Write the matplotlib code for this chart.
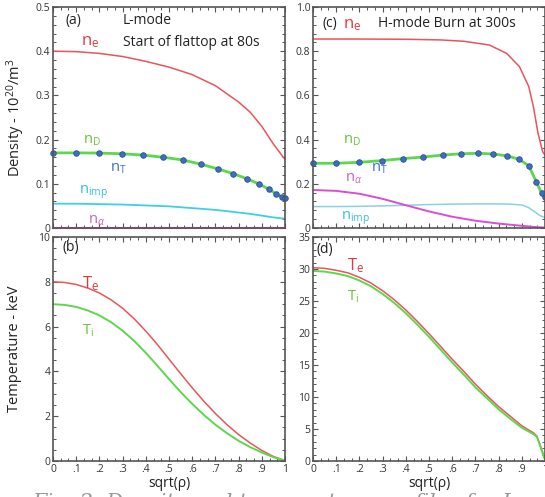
import matplotlib
matplotlib.use('Agg')
import matplotlib.pyplot as plt
from matplotlib.ticker import MultipleLocator, FixedLocator

plt.rcParams['font.family'] = ['Open Sans', 'DejaVu Sans']
plt.rcParams['mathtext.fontset'] = 'custom'
plt.rcParams['mathtext.rm'] = 'Open Sans'
plt.rcParams['mathtext.it'] = 'Open Sans:italic'

# ---- data ----
# profile grid (sqrt(rho))
x_prof = [0.0, 0.1, 0.2, 0.3, 0.4, 0.5, 0.6, 0.7, 0.8, 0.85, 0.9, 0.95, 1.0]
x_T = [0.0, 0.05, 0.1, 0.15, 0.2, 0.25, 0.3, 0.35, 0.4, 0.45, 0.5, 0.55, 0.6, 0.65, 0.7, 0.75, 0.8, 0.85, 0.9, 0.95, 1.0]
# marker grid for nD / nT
x_mark = [0.0, 0.1, 0.198, 0.296, 0.387, 0.475, 0.559, 0.64, 0.712, 0.777, 0.838, 0.888, 0.93, 0.962, 0.985, 1.0]

# (a) L-mode, start of flattop at 80s
ne_a = [0.40, 0.399, 0.395, 0.388, 0.377, 0.364, 0.347, 0.322, 0.285, 0.262, 0.23, 0.19, 0.155]
nD_a = [0.170, 0.170, 0.1695, 0.168, 0.165, 0.160, 0.154, 0.144, 0.1335, 0.123, 0.111, 0.0995, 0.088, 0.077, 0.071, 0.067]
nimp_a = [0.055, 0.055, 0.054, 0.053, 0.051, 0.049, 0.045, 0.041, 0.035, 0.032, 0.028, 0.024, 0.021]
nalpha_a = [0.001, 0.001, 0.001, 0.001, 0.001, 0.001, 0.001, 0.001, 0.001, 0.001, 0.001, 0.001, 0.001]

# (b) temperatures, L-mode
Te_b = [8.0, 7.97, 7.88, 7.72, 7.5, 7.2, 6.82, 6.35, 5.8, 5.2, 4.55, 3.9, 3.27, 2.67, 2.12, 1.62, 1.18, 0.8, 0.47, 0.2, 0.02]
Ti_b = [7.0, 6.97, 6.88, 6.72, 6.5, 6.2, 5.82, 5.36, 4.83, 4.25, 3.66, 3.08, 2.55, 2.06, 1.62, 1.24, 0.9, 0.62, 0.38, 0.17, 0.02]

# (c) H-mode burn at 300s
x_ne_c = [0.0, 0.2, 0.4, 0.55, 0.65, 0.76, 0.835, 0.89, 0.93, 0.95, 0.97, 0.99, 1.0]
ne_c = [0.855, 0.855, 0.854, 0.851, 0.845, 0.828, 0.79, 0.73, 0.64, 0.549, 0.428, 0.345, 0.33]
nD_c = [0.293, 0.293, 0.297, 0.305, 0.314, 0.321, 0.330, 0.336, 0.338, 0.335, 0.326, 0.311, 0.282, 0.21, 0.158, 0.139]
x_imp_c = [0.0, 0.1, 0.2, 0.3, 0.4, 0.5, 0.6, 0.7, 0.8, 0.85, 0.9, 0.93, 0.96, 0.98, 1.0]
nimp_c = [0.097, 0.097, 0.098, 0.100, 0.103, 0.106, 0.108, 0.109, 0.109, 0.108, 0.104, 0.092, 0.07, 0.055, 0.048]
nalpha_c = [0.172, 0.168, 0.155, 0.132, 0.103, 0.075, 0.051, 0.033, 0.02, 0.015, 0.01, 0.005, 0.002]

# (d) temperatures, H-mode
x_T_d = [0.0, 0.05, 0.1, 0.15, 0.2, 0.25, 0.3, 0.35, 0.4, 0.45, 0.5, 0.55, 0.6, 0.65, 0.7, 0.75, 0.8, 0.85, 0.9, 0.95, 0.965, 1.0]
Te_d = [30.2, 30.1, 29.8, 29.4, 28.7, 27.8, 26.6, 25.2, 23.6, 21.8, 19.9, 17.9, 15.9, 14.0, 12.0, 10.2, 8.5, 7.0, 5.5, 4.4, 3.9, 0.3]
Ti_d = [29.7, 29.6, 29.3, 28.9, 28.2, 27.3, 26.1, 24.7, 23.1, 21.3, 19.4, 17.4, 15.4, 13.5, 11.5, 9.8, 8.1, 6.6, 5.2, 4.2, 3.8, 0.2]

xtick_vals = [0, 0.1, 0.2, 0.3, 0.4, 0.5, 0.6, 0.7, 0.8, 0.9, 1.0]
xtick_text = ['0', '.1', '.2', '.3', '.4', '.5', '.6', '.7', '.8', '.9', '1']
yt_a = [0, 0.1, 0.2, 0.3, 0.4, 0.5]
yt_a_text = ['0', '0.1', '0.2', '0.3', '0.4', '0.5']
yt_b = [0, 2, 4, 6, 8, 10]
yt_c = [0, 0.2, 0.4, 0.6, 0.8, 1.0]
yt_c_text = ['0', '0.2', '0.4', '0.6', '0.8', '1.0']
yt_d = [0, 5, 10, 15, 20, 25, 30, 35]

red = '#e8555a'
green = '#5cd84a'
blue = '#3d6fc0'
cyan = '#3fd0e0'
lblue = '#8ccfe8'
magenta = '#d84fd0'
axc = '#555555'

fig = plt.figure(figsize=(5.45, 4.97), dpi=100)
W, H = 545.0, 497.0
def add(l, t, r, b):
    return fig.add_axes([l / W, 1 - b / H, (r - l) / W, (b - t) / H])

ax_a = add(53, 7, 285, 228)
ax_b = add(53, 237, 285, 461)
ax_c = add(313, 7, 545, 228)
ax_d = add(313, 237, 545, 461)

for ax in (ax_a, ax_b, ax_c, ax_d):
    ax.set_xlim(0, 1)
    ax.xaxis.set_major_locator(FixedLocator(xtick_vals))
    ax.xaxis.set_minor_locator(MultipleLocator(0.1 / 3))
    ax.tick_params(which='both', direction='in', top=True, right=True, colors=axc,
                   labelcolor='#333333', labelsize=7.5, pad=2)
    ax.tick_params(which='major', length=3.5, width=0.8)
    ax.tick_params(which='minor', length=2, width=0.7)
    for s in ax.spines.values():
        s.set_color(axc)
        s.set_linewidth(1.2)

for ax in (ax_a, ax_c):
    ax.set_xticklabels([])
for ax in (ax_b, ax_d):
    ax.set_xticklabels(xtick_text)
    ax.set_xlabel('sqrt(\u03c1)', fontsize=10, color='#222222', labelpad=1)

# (a)
ax_a.set_ylim(0, 0.5)
ax_a.set_yticks(yt_a, yt_a_text)
ax_a.yaxis.set_minor_locator(MultipleLocator(0.02))
ax_a.plot(x_prof, ne_a, color=red, lw=1.1)
ax_a.plot(x_prof, nimp_a, color=cyan, lw=1.3)
ax_a.plot(x_prof, nalpha_a, color=magenta, lw=1.5, clip_on=False)
ax_a.plot(x_mark, nD_a, color=green, lw=2.0)
ax_a.plot(x_mark, nD_a, ls='none', marker='o', ms=4, mfc=blue, mec='#2a4f9a', mew=0.6, clip_on=False)
ax_a.set_ylabel('Density - 10$^{20}$/m$^3$', fontsize=10.5, color='#222222', labelpad=6)
ax_a.text(0.055, 0.47, '(a)', fontsize=10, color='#222222', va='center')
ax_a.text(0.30, 0.47, 'L-mode', fontsize=10, color='#222222', va='center')
ax_a.text(0.30, 0.42, 'Start of flattop at 80s', fontsize=10, color='#222222', va='center')
ax_a.text(0.12, 0.42, 'n$_\\mathrm{e}$', fontsize=12, color='#e03a40', va='center')
ax_a.text(0.13, 0.198, 'n$_\\mathrm{D}$', fontsize=10.5, color='#6cc040', va='center')
ax_a.text(0.245, 0.135, 'n$_\\mathrm{T}$', fontsize=10.5, color=blue, va='center')
ax_a.text(0.11, 0.082, 'n$_\\mathrm{imp}$', fontsize=10.5, color='#35bfe0', va='center')
ax_a.text(0.15, 0.018, 'n$_\\alpha$', fontsize=10.5, color='#d060b8', va='center')

# (b)
ax_b.set_ylim(0, 10)
ax_b.set_yticks(yt_b)
ax_b.yaxis.set_minor_locator(MultipleLocator(0.5))
ax_b.plot(x_T, Te_b, color=red, lw=1.1)
ax_b.plot(x_T, Ti_b, color=green, lw=1.4)
ax_b.set_ylabel('Temperature - keV', fontsize=10.5, color='#222222', labelpad=12)
ax_b.text(0.04, 9.55, '(b)', fontsize=10, color='#222222', va='center')
ax_b.text(0.125, 7.9, 'T$_\\mathrm{e}$', fontsize=12, color='#e03a40', va='center')
ax_b.text(0.125, 5.8, 'T$_\\mathrm{i}$', fontsize=10.5, color='#6cc040', va='center')

# (c)
ax_c.set_ylim(0, 1.0)
ax_c.set_yticks(yt_c, yt_c_text)
ax_c.yaxis.set_minor_locator(MultipleLocator(0.04))
ax_c.plot(x_ne_c, ne_c, color=red, lw=1.1)
ax_c.plot(x_imp_c, nimp_c, color=lblue, lw=1.1)
ax_c.plot(x_prof, nalpha_c, color=magenta, lw=1.4)
ax_c.plot(x_mark, nD_c, color=green, lw=2.0)
ax_c.plot(x_mark, nD_c, ls='none', marker='o', ms=4, mfc=blue, mec='#2a4f9a', mew=0.6, clip_on=False)
ax_c.text(0.04, 0.925, '(c)', fontsize=10, color='#222222', va='center')
ax_c.text(0.13, 0.92, 'n$_\\mathrm{e}$', fontsize=12, color='#e03a40', va='center')
ax_c.text(0.28, 0.925, 'H-mode Burn at 300s', fontsize=10, color='#222222', va='center')
ax_c.text(0.13, 0.395, 'n$_\\mathrm{D}$', fontsize=10.5, color='#6cc040', va='center')
ax_c.text(0.25, 0.27, 'n$_\\mathrm{T}$', fontsize=10.5, color=blue, va='center')
ax_c.text(0.14, 0.225, 'n$_\\alpha$', fontsize=10.5, color='#d060b8', va='center')
ax_c.text(0.12, 0.045, 'n$_\\mathrm{imp}$', fontsize=10.5, color='#35bfe0', va='center')

# (d)
ax_d.set_ylim(0, 35)
ax_d.set_yticks(yt_d)
ax_d.yaxis.set_minor_locator(MultipleLocator(1))
ax_d.plot(x_T_d, Te_d, color=red, lw=1.1)
ax_d.plot(x_T_d, Ti_d, color=green, lw=1.4)
ax_d.text(0.015, 33.0, '(d)', fontsize=10, color='#222222', va='center')
ax_d.text(0.145, 30.6, 'T$_\\mathrm{e}$', fontsize=12, color='#e03a40', va='center')
ax_d.text(0.145, 25.6, 'T$_\\mathrm{i}$', fontsize=10.5, color='#6cc040', va='center')

# clipped caption at the bottom edge
fig.text(0.06, 0.008, 'Fig. 2. Density and temperature profiles for L- and H-mode', fontsize=15,
         family='DejaVu Serif', style='italic', color='#999999', va='top')

plt.savefig('out.png', dpi=100)
